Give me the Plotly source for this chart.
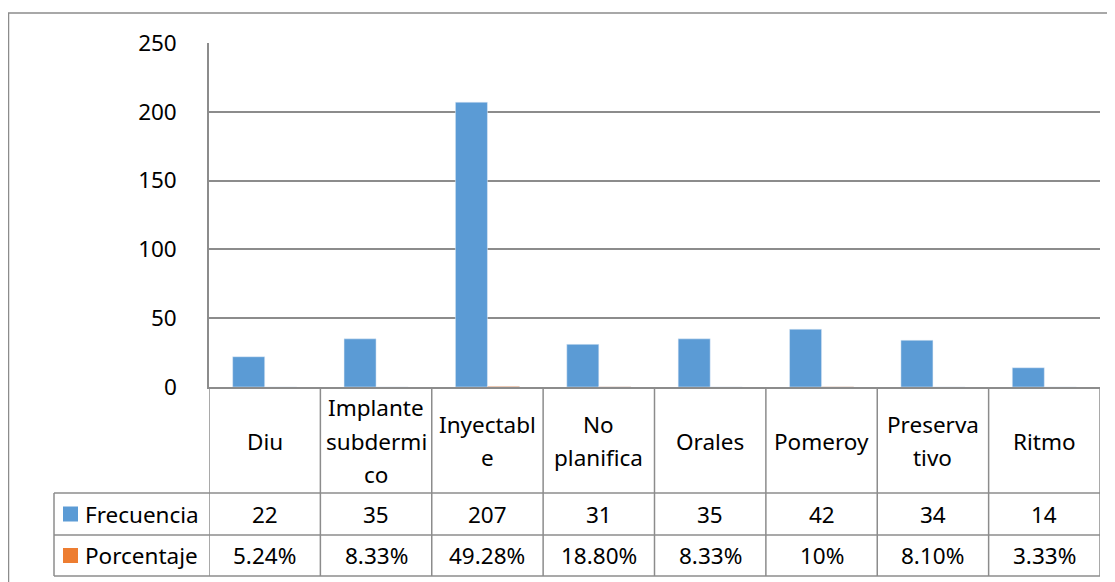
import plotly.graph_objects as go

# ---- data ----
categories = ["Diu", "Implante subdermico", "Inyectable", "No planifica",
              "Orales", "Pomeroy", "Preservativo", "Ritmo"]
# how Excel wrapped the category labels inside the data-table cells
category_lines = [["Diu"], ["Implante", "subdermi", "co"], ["Inyectabl", "e"],
                  ["No", "planifica"], ["Orales"], ["Pomeroy"],
                  ["Preserva", "tivo"], ["Ritmo"]]
frecuencia = [22, 35, 207, 31, 35, 42, 34, 14]
porcentaje = [0.0524, 0.0833, 0.4928, 0.1880, 0.0833, 0.10, 0.0810, 0.0333]
porcentaje_labels = ["5.24%", "8.33%", "49.28%", "18.80%", "8.33%", "10%", "8.10%", "3.33%"]
series_names = ["Frecuencia", "Porcentaje"]
series_colors = ["#5B9BD5", "#ED7D31"]
y_ticks = [0, 50, 100, 150, 200, 250]

# ---- layout geometry (screen pixels; page body adds an 8px offset) ----
OFF = 8
W, H = 1115 - OFF, 582 - OFF
PL, PR, PT, PB = 209 - OFF, 1100 - OFF, 43 - OFF, 387 - OFF
FONT = "Noto Sans"
FS = 22.5
LINE = "#8c8c8c"


def ypap(p):
    """screen pixel y -> paper"""
    return (PB - (p - OFF)) / (PB - PT)


def xpap(p):
    """screen pixel x -> paper"""
    return ((p - OFF) - PL) / (PR - PL)


fig = go.Figure()
fig.add_trace(go.Bar(x=categories, y=frecuencia, name=series_names[0],
                     marker_color=series_colors[0]))
fig.add_trace(go.Bar(x=categories, y=porcentaje, name=series_names[1],
                     marker_color=series_colors[1]))

shapes = []
annotations = []

# outer chart border (right and bottom edges fall outside the window)
shapes.append(dict(type="rect", xref="paper", yref="paper",
                   x0=xpap(8.5), x1=xpap(1140), y0=ypap(13), y1=ypap(610),
                   line=dict(color=LINE, width=1.5), fillcolor="rgba(0,0,0,0)"))

row_cat = (387, 493)
row_f = (493, 535)
row_p = (535, 576)
legend_left = 54

# horizontal table lines
for yy in [row_f[0], row_p[0], row_p[1]]:
    shapes.append(dict(type="line", xref="paper", yref="paper",
                       x0=xpap(legend_left), x1=xpap(1100), y0=ypap(yy), y1=ypap(yy),
                       line=dict(color=LINE, width=1.5)))
# vertical table lines at category boundaries
n = len(categories)
for i in range(n + 1):
    shapes.append(dict(type="line", xref="x", yref="paper",
                       x0=i - 0.5, x1=i - 0.5, y0=ypap(387), y1=ypap(row_p[1]),
                       line=dict(color=LINE, width=1.5)))
# legend column left edge
shapes.append(dict(type="line", xref="paper", yref="paper",
                   x0=xpap(legend_left), x1=xpap(legend_left),
                   y0=ypap(row_f[0]), y1=ypap(row_p[1]),
                   line=dict(color=LINE, width=1.5)))

# category labels (wrapped)
cat_center = (row_cat[0] + row_cat[1]) / 2 + 1
line_h = 33.5
for i, lines in enumerate(category_lines):
    k = len(lines)
    for j, t in enumerate(lines):
        yc = cat_center + (j - (k - 1) / 2) * line_h
        annotations.append(dict(x=i, xref="x", y=ypap(yc), yref="paper",
                                text=t, showarrow=False, xanchor="center",
                                yanchor="middle",
                                font=dict(family=FONT, size=FS, color="black")))

# value rows
for row, vals in [(row_f, [str(v) for v in frecuencia]), (row_p, porcentaje_labels)]:
    yc = (row[0] + row[1]) / 2
    for i, t in enumerate(vals):
        annotations.append(dict(x=i, xref="x", y=ypap(yc), yref="paper",
                                text=t, showarrow=False, xanchor="center",
                                yanchor="middle",
                                font=dict(family=FONT, size=FS, color="black")))

# legend keys + names
for row, name, col in [(row_f, series_names[0], series_colors[0]),
                       (row_p, series_names[1], series_colors[1])]:
    yc = (row[0] + row[1]) / 2
    shapes.append(dict(type="rect", xref="paper", yref="paper",
                       x0=xpap(63), x1=xpap(78), y0=ypap(yc - 7.5), y1=ypap(yc + 7.5),
                       line=dict(width=0), fillcolor=col))
    annotations.append(dict(x=xpap(83), xref="paper", y=ypap(yc), yref="paper",
                            text=name, showarrow=False, xanchor="left",
                            yanchor="middle",
                            font=dict(family=FONT, size=FS, color="black")))

fig.update_layout(
    width=W, height=H,
    margin=dict(l=PL, r=W - PR, t=PT, b=H - PB, pad=0),
    paper_bgcolor="white", plot_bgcolor="white",
    barmode="group", bargap=0.425, bargroupgap=0,
    showlegend=False,
    shapes=shapes, annotations=annotations,
    font=dict(family=FONT, size=FS, color="black"),
    xaxis=dict(showticklabels=False, ticks="", showgrid=False,
               showline=True, linecolor=LINE, linewidth=1.5,
               range=[-0.5, n - 0.5], fixedrange=True),
    yaxis=dict(range=[0, 250], tickvals=y_ticks, showgrid=True,
               gridcolor=LINE, gridwidth=1.5, zeroline=False,
               showline=True, linecolor=LINE, linewidth=1.5,
               ticks="", ticklabelstandoff=26,
               tickfont=dict(family=FONT, size=FS, color="black")),
)

fig.write_html("out.html")
